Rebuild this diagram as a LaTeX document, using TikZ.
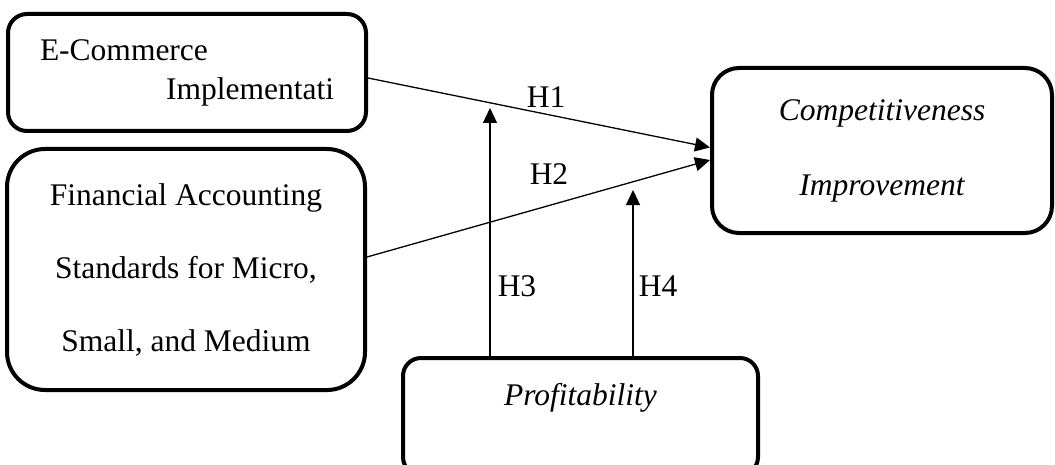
\documentclass[tikz,border=0pt]{standalone}
\usepackage{fontspec}
\setmainfont{Liberation Serif}
\usetikzlibrary{calc,arrows.meta}

\begin{document}
\begin{tikzpicture}[x=0.5pt, y=-0.5pt,
	box/.style = {draw, line width=2pt, inner sep=0pt},
	conn/.style = {-{Triangle[length=7.5pt,width=7pt]}, line width=0.65pt},
	lab/.style = {font=\fontsize{15.75}{19}\selectfont}]
	\useasboundingbox (0,0) rectangle (1055,465);
	\clip (0,0) rectangle (1055,465);
	% variables
	\node [box, rounded corners=9.5pt, minimum width=179pt, minimum height=58.5pt,
		text width=147pt, align=left, font=\fontsize{15.75}{19.5}\selectfont]
		(ecom) at (187,72.5) {E-Commerce\\\hfill Implementati};
	\node [box, rounded corners=19pt, minimum width=179pt, minimum height=120.5pt,
		align=center, font=\fontsize{15.75}{36.5}\selectfont]
		(fin) at (186,269.5) {Financial Accounting\\Standards for Micro,\\Small, and Medium};
	\node [box, rounded corners=13.5pt, minimum width=170pt, minimum height=82.5pt,
		align=center, font=\itshape\fontsize{15.75}{37.5}\selectfont]
		(comp) at (882,150.5) {Competitiveness\\Improvement};
	\node [box, rounded corners=9pt, minimum width=177.5pt, text height=23.5pt, text depth=35pt,
		anchor=base, font=\itshape\fontsize{15.75}{19}\selectfont]
		(prof) at (580.5,405) {Profitability};
	% paths
	\coordinate (h3tip) at (490,108);
	\coordinate (h4tip) at (633,190);
	\draw [conn] ($(ecom.east)+(0,5.5)$) -- ($(comp.west)+(0,-3)$);
	\draw [conn] ($(fin.east)+(0,-12.5)$) -- ($(comp.west)+(0,9.5)$);
	\draw [conn] ($(prof.north)+(-90.5,0)$) -- (h3tip);
	\draw [conn] ($(prof.north)+(52.5,0)$) -- (h4tip);
	\node [lab] (lh1) at (546,97) {H1};
	\node [lab] (lh2) at (549,174) {H2};
	\node [lab] (lh3) at (517,286) {H3};
	\node [lab] (lh4) at (658,286) {H4};
\end{tikzpicture}
\end{document}
